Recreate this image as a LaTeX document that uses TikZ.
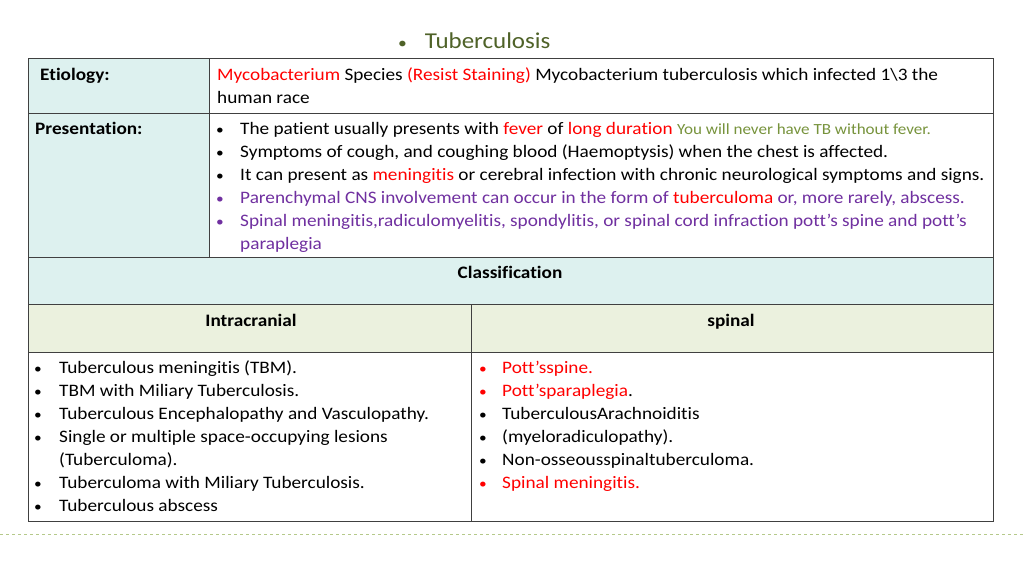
\documentclass[tikz,border=0pt]{standalone}
\usepackage{fontspec}
\setmainfont[FakeStretch=1.1,Ligatures={NoCommon}]{Carlito}
\definecolor{tred}{HTML}{FF0000}
\definecolor{tpur}{HTML}{7030A0}
\definecolor{tgrn}{HTML}{77933C}
\definecolor{ttitle}{HTML}{4F6228}
\definecolor{cyanfill}{HTML}{DDF1EF}
\definecolor{grnfill}{HTML}{EBF1DE}
\definecolor{dashc}{HTML}{B5C98A}
\begin{document}
\begin{tikzpicture}[x=1pt,y=-1pt,
  txt/.style={anchor=base west,inner sep=0pt,font=\fontsize{17.5}{20}\selectfont},
  hdr/.style={anchor=base,inner sep=0pt,font=\fontsize{17.5}{20}\selectfont\bfseries},
  bul/.style={anchor=base west,inner sep=0pt,font=\fontsize{14}{16}\selectfont},
  cell/.style={draw=black!75,line width=1pt}]
\useasboundingbox (0,0) rectangle (1024,576);
\fill[white] (0,0) rectangle (1024,576);
% fills
\fill[cyanfill] (28,58) rectangle (209,257);
\fill[cyanfill] (28,257) rectangle (993,304);
\fill[grnfill] (28,304) rectangle (993,352);
% grid
\draw[cell] (28,58) rectangle (993,521);
\draw[cell] (28,113) -- (993,113);
\draw[cell] (28,257) -- (993,257);
\draw[cell] (28,304) -- (993,304);
\draw[cell] (28,352) -- (993,352);
\draw[cell] (209,58) -- (209,257);
\draw[cell] (471,304) -- (471,521);
\draw[dashc,dashed,line width=0.8pt] (0,534) -- (1024,534);
% title
\node (title) [anchor=base west,inner sep=0pt,text=ttitle,font=\fontsize{22.7}{26}\selectfont] at (398,48) {{\fontsize{16}{18}\selectfont•}\hspace{18pt}Tuberculosis};
% etiology
\node (et) [txt,font=\fontsize{17.5}{20}\selectfont\bfseries] at (40,80) {Etiology:};
\node (et1) [txt] at (217,80) {\textcolor{tred}{Mycobacterium} Species \textcolor{tred}{(Resist Staining)} Mycobacterium tuberculosis which infected 1\textbackslash 3 the};
\node (et2) [txt] at (217,103) {human race};
% presentation
\node (pr) [txt,font=\fontsize{17.5}{20}\selectfont\bfseries] at (35,134) {Presentation:};
\node (b1) [bul] at (216,134) {•};
\node (p1) [txt] at (240,134) {The patient usually presents with \textcolor{tred}{fever} of \textcolor{tred}{long duration} \textcolor{tgrn}{\fontsize{15.5}{18}\selectfont You will never have TB without fever.}};
\node (b2) [bul] at (216,157) {•};
\node (p2) [txt] at (240,157) {Symptoms of cough, and coughing blood (Haemoptysis) when the chest is affected.};
\node (b3) [bul] at (216,180) {•};
\node (p3) [txt] at (240,180) {It can present as \textcolor{tred}{meningitis} or cerebral infection with chronic neurological symptoms and signs.};
\node (b4) [bul,text=tpur] at (216,203) {•};
\node (p4) [txt,text=tpur] at (240,203) {Parenchymal CNS involvement can occur in the form of \textcolor{tred}{tuberculoma} or, more rarely, abscess.};
\node (b5) [bul,text=tpur] at (216,226) {•};
\node (p5) [txt,text=tpur] at (240,226) {Spinal meningitis,radiculomyelitis, spondylitis, or spinal cord infraction pott’s spine and pott’s};
\node (p6) [txt,text=tpur] at (240,249) {paraplegia};
% headers
\node (cl) [hdr] at (510,278) {Classification};
\node (ic) [hdr] at (251,326) {Intracranial};
\node (sp) [hdr] at (731,326) {spinal};
% intracranial list
\foreach \y/\t/\nm in {373/Tuberculous meningitis (TBM)./i1, 396/TBM with Miliary Tuberculosis./i2, 419/Tuberculous Encephalopathy and Vasculopathy./i3, 442/Single or multiple space-occupying lesions/i4, 488/Tuberculoma with Miliary Tuberculosis./i6, 511/Tuberculous abscess/i7}{
  \node (\nm b) [bul] at (34,\y) {•};
  \node (\nm) [txt] at (59,\y) {\t};
}
\node (i5) [txt] at (59,465) {(Tuberculoma).};
% spinal list
\node (s1b) [bul,text=tred] at (479,373) {•};
\node (s1) [txt,text=tred] at (502,373) {Pott’sspine.};
\node (s2b) [bul,text=tred] at (479,396) {•};
\node (s2) [txt] at (502,396) {\textcolor{tred}{Pott’sparaplegia}.};
\node (s3b) [bul] at (479,419) {•};
\node (s3) [txt] at (502,419) {TuberculousArachnoiditis};
\node (s4b) [bul] at (479,442) {•};
\node (s4) [txt] at (502,442) {(myeloradiculopathy).};
\node (s5b) [bul] at (479,465) {•};
\node (s5) [txt] at (502,465) {Non-osseousspinaltuberculoma.};
\node (s6b) [bul,text=tred] at (479,488) {•};
\node (s6) [txt,text=tred] at (502,488) {Spinal meningitis.};
\end{tikzpicture}
\end{document}
